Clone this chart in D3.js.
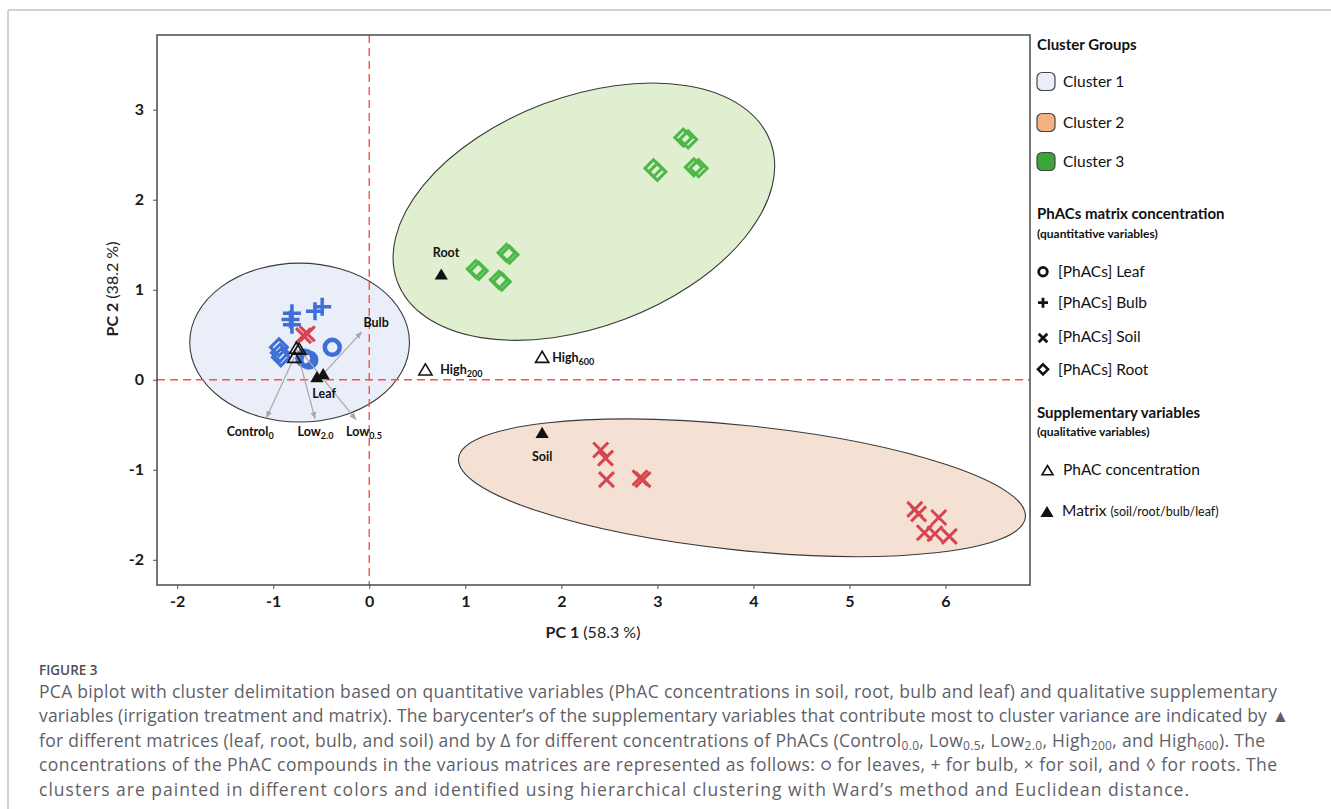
<!DOCTYPE html>
<html><head><meta charset="utf-8">
<script src="https://cdn.jsdelivr.net/npm/d3@7"></script>
<style>body{margin:0;background:#fff;} svg{display:block;}</style>
</head><body>
<svg id="chart" width="1331" height="809"></svg>
<script>
// ---------------- DATA ----------------
const xTicks = [-2, -1, 0, 1, 2, 3, 4, 5, 6];
const yTicks = [-2, -1, 0, 1, 2, 3];

// cluster ellipses (data units; angle in screen degrees)
const clusterNames = ["Cluster 1", "Cluster 2", "Cluster 3"];
const ellCX = [-0.725, 3.881, 2.235];
const ellCY = [0.413, -1.20, 1.867];
const ellRX = [1.144, 2.967, 2.075];
const ellRY = [0.883, 0.693, 1.278];
const ellAngle = [0, 5.94, -20.7];

// PhACs matrix concentrations (quantitative variables)
const leafX = [-0.67, -0.63, -0.385];
const leafY = [0.24, 0.22, 0.36];
const bulbX = [-0.805, -0.82, -0.805, -0.565, -0.49];
const bulbY = [0.74, 0.67, 0.61, 0.76, 0.81];
const soilX = [-0.685, -0.645, 2.41, 2.46, 2.47, 2.82, 2.85, 5.68, 5.72, 5.93, 5.78, 5.89, 6.04];
const soilY = [0.49, 0.51, -0.78, -0.87, -1.11, -1.09, -1.11, -1.44, -1.49, -1.53, -1.70, -1.71, -1.74];
const rootX = [-0.94, -0.93, -0.92, 3.27, 3.32, 2.96, 3.00, 3.38, 3.43, 1.43, 1.46, 1.11, 1.14, 1.35, 1.38];
const rootY = [0.36, 0.30, 0.25, 2.69, 2.67, 2.35, 2.31, 2.36, 2.35, 1.41, 1.39, 1.23, 1.21, 1.11, 1.09];
const rootCluster = [1, 1, 1, 3, 3, 3, 3, 3, 3, 3, 3, 3, 3, 3, 3];

// supplementary: PhAC concentration (open triangles)
const concBase = ["Control", "Low", "Low", "High", "High"];
const concSub = ["0", "2.0", "0.5", "200", "600"];
const concX = [-0.78, -0.76, -0.73, 0.585, 1.80];
const concY = [0.25, 0.35, 0.34, 0.11, 0.25];
const concLabelX = [-1.24, -0.56, -0.055, 0.74, 1.905];
const concLabelY = [-0.62, -0.62, -0.62, 0.067, 0.20];
const concArrowX = [-1.07, -0.565, -0.14, null, null];
const concArrowY = [-0.42, -0.43, -0.44, null, null];

// supplementary: matrix (filled triangles)
const matName = ["Root", "Soil", "Bulb", "Leaf"];
const matX = [0.75, 1.80, -0.48, -0.545];
const matY = [1.17, -0.59, 0.063, 0.03];
const matLabelX = [0.80, 1.80, 0.071, -0.47];
const matLabelY = [1.36, -0.90, 0.59, -0.20];
const matArrowX = [null, null, -0.08, null];
const matArrowY = [null, null, 0.53, null];

// ---------------- STYLE ----------------
const FONT = "Lato, 'Open Sans', sans-serif";
const ellFill = ["#e9eef8", "#f5e1d4", "#e0efcf"];
const swatchFill = ["#e9eef8", "#f4b183", "#3aa63a"];
const BLUE = "#3d6fd6", RED = "#d64550", GREEN = "#4cb84a";

const svg = d3.select("#chart");
const x = d3.scaleLinear().domain([-2.21, 6.88]).range([157, 1030]);
const y = d3.scaleLinear().domain([-2.28, 3.83]).range([585, 35]);

// outer page frame
svg.append("line").attr("x1", 8).attr("x2", 1331).attr("y1", 10).attr("y2", 10)
  .attr("stroke", "#d2d2d6").attr("stroke-width", 2);
svg.append("line").attr("x1", 8).attr("x2", 8).attr("y1", 10).attr("y2", 809)
  .attr("stroke", "#d2d2d6").attr("stroke-width", 2);

const defs = svg.append("defs");
defs.append("marker").attr("id", "ah").attr("viewBox", "0 0 10 10")
  .attr("refX", 9).attr("refY", 5).attr("markerWidth", 6).attr("markerHeight", 6)
  .attr("orient", "auto")
  .append("path").attr("d", "M0,1L10,5L0,9Z").attr("fill", "#a8a8a8");

const g = svg.append("g");

// ellipses
g.selectAll("ellipse.cl").data(d3.range(3)).join("ellipse").attr("class", "cl")
  .attr("cx", i => x(ellCX[i])).attr("cy", i => y(ellCY[i]))
  .attr("rx", i => x(ellCX[i] + ellRX[i]) - x(ellCX[i]))
  .attr("ry", i => y(ellCY[i]) - y(ellCY[i] + ellRY[i]))
  .attr("transform", i => `rotate(${ellAngle[i]},${x(ellCX[i])},${y(ellCY[i])})`)
  .attr("fill", i => ellFill[i]).attr("stroke", "#3a3a3a").attr("stroke-width", 1.1);

// dashed zero lines
g.append("line").attr("x1", x(0)).attr("x2", x(0)).attr("y1", y.range()[1]).attr("y2", y.range()[0])
  .attr("stroke", "#ff4d4d").attr("stroke-width", 1.4).attr("stroke-dasharray", "8,5");
g.append("line").attr("x1", x.range()[0]).attr("x2", x.range()[1]).attr("y1", y(0)).attr("y2", y(0))
  .attr("stroke", "#ff4d4d").attr("stroke-width", 1.4).attr("stroke-dasharray", "8,5");

// axes
const xAxis = g.append("g").attr("transform", `translate(0,${y.range()[0]})`)
  .call(d3.axisBottom(x).tickValues(xTicks).tickFormat(d => String(d)).tickSize(4).tickPadding(7));
const yAxis = g.append("g").attr("transform", `translate(${x.range()[0]},0)`)
  .call(d3.axisLeft(y).tickValues(yTicks).tickFormat(d => String(d)).tickSize(4).tickPadding(9));
[xAxis, yAxis].forEach(a => {
  a.select(".domain").remove();
  a.selectAll(".tick line").attr("stroke", "#555");
  a.selectAll(".tick text").attr("font-family", FONT).attr("font-weight", 700)
    .attr("font-size", 16).attr("fill", "#1a1a1a");
});
// frame
g.append("rect").attr("x", x.range()[0]).attr("y", y.range()[1])
  .attr("width", x.range()[1] - x.range()[0]).attr("height", y.range()[0] - y.range()[1])
  .attr("fill", "none").attr("stroke", "#4a4a4a").attr("stroke-width", 1.5);

// axis titles
const xt = svg.append("text").attr("x", 593).attr("y", 638).attr("text-anchor", "middle")
  .attr("font-family", FONT).attr("font-size", 16).attr("fill", "#222");
xt.append("tspan").attr("font-weight", 700).text("PC 1");
xt.append("tspan").text(" (58.3 %)");
const yt = svg.append("text").attr("transform", "translate(118,289) rotate(-90)").attr("text-anchor", "middle")
  .attr("font-family", FONT).attr("font-size", 16).attr("fill", "#222");
yt.append("tspan").attr("font-weight", 700).text("PC 2");
yt.append("tspan").text(" (38.2 %)");

// symbol shapes
const shapes = {
  circle: s => `M${s},0A${s},${s} 0 1,1 ${-s},0A${s},${s} 0 1,1 ${s},0Z`,
  plus: s => `M${-s},0H${s}M0,${-s}V${s}`,
  cross: s => `M${-s},${-s}L${s},${s}M${-s},${s}L${s},${-s}`,
  diamond: s => `M0,${-s}L${s},0L0,${s}L${-s},0Z`,
  tri: s => `M0,${-s}L${s * 1.1},${s * 0.85}L${-s * 1.1},${s * 0.85}Z`
};

function drawPoints(xs, ys, shape, size, width, colorFn) {
  g.append("g").selectAll("path").data(d3.range(xs.length)).join("path")
    .attr("transform", i => `translate(${x(xs[i])},${y(ys[i])})`)
    .attr("d", shapes[shape](size)).attr("fill", "none")
    .attr("stroke", colorFn).attr("stroke-width", width).attr("stroke-linejoin", "miter");
}
drawPoints(rootX, rootY, "diamond", 8.5, 3, i => rootCluster[i] === 1 ? BLUE : GREEN);
drawPoints(leafX, leafY, "circle", 7.5, 4.5, () => BLUE);
drawPoints(bulbX, bulbY, "plus", 9, 3.5, () => BLUE);
drawPoints(soilX, soilY, "cross", 7.5, 3, () => RED);

// arrows
function arrows(xs, ys, ax, ay) {
  g.append("g").selectAll("line").data(d3.range(xs.length).filter(i => ax[i] !== null)).join("line")
    .attr("x1", i => x(xs[i])).attr("y1", i => y(ys[i]))
    .attr("x2", i => x(ax[i])).attr("y2", i => y(ay[i]))
    .attr("stroke", "#a8a8a8").attr("stroke-width", 1.2).attr("marker-end", "url(#ah)");
}
arrows(concX, concY, concArrowX, concArrowY);
arrows(matX, matY, matArrowX, matArrowY);

// supplementary triangles
g.append("g").selectAll("path").data(d3.range(concX.length)).join("path")
  .attr("transform", i => `translate(${x(concX[i])},${y(concY[i])})`)
  .attr("d", shapes.tri(6)).attr("fill", "none").attr("stroke", "#111").attr("stroke-width", 1.6);
g.append("g").selectAll("path").data(d3.range(matX.length)).join("path")
  .attr("transform", i => `translate(${x(matX[i])},${y(matY[i])})`)
  .attr("d", shapes.tri(6)).attr("fill", "#111");

// labels
const concLab = g.append("g").selectAll("text").data(d3.range(concX.length)).join("text")
  .attr("x", i => x(concLabelX[i])).attr("y", i => y(concLabelY[i]))
  .attr("text-anchor", i => concArrowX[i] === null ? "start" : "middle")
  .attr("font-family", FONT).attr("font-weight", 700).attr("font-size", 12.5).attr("fill", "#111");
concLab.append("tspan").text(i => concBase[i]);
concLab.append("tspan").attr("font-size", 9).attr("dy", 3).text(i => concSub[i]);
g.append("g").selectAll("text").data(d3.range(matX.length)).join("text")
  .attr("x", i => x(matLabelX[i])).attr("y", i => y(matLabelY[i]))
  .attr("text-anchor", "middle")
  .attr("font-family", FONT).attr("font-weight", 700).attr("font-size", 12.5).attr("fill", "#111")
  .text(i => matName[i]);

// ---------------- LEGEND ----------------
const L = svg.append("g").attr("font-family", FONT).attr("fill", "#111");
const LX = 1037;
L.append("text").attr("x", LX).attr("y", 50).attr("font-weight", 700).attr("font-size", 15).text("Cluster Groups");
clusterNames.forEach((n, i) => {
  const cy = [81.5, 122.5, 161.5][i];
  L.append("rect").attr("x", LX).attr("y", cy - 9).attr("width", 18).attr("height", 18).attr("rx", 5)
    .attr("fill", swatchFill[i]).attr("stroke", "#444").attr("stroke-width", 1.2);
  L.append("text").attr("x", 1063).attr("y", cy + 5.5).attr("font-size", 15.5).text(n);
});
L.append("text").attr("x", LX).attr("y", 219).attr("font-weight", 700).attr("font-size", 15).text("PhACs matrix concentration");
L.append("text").attr("x", LX).attr("y", 237.5).attr("font-weight", 700).attr("font-size", 12).text("(quantitative variables)");
const qItems = [["circle", 4.3, 2.8, 271.7, "[PhACs] Leaf"], ["plus", 5, 2.8, 302.7, "[PhACs] Bulb"],
  ["cross", 4.3, 2.8, 338, "[PhACs] Soil"], ["diamond", 5, 2.6, 369.3, "[PhACs] Root"]];
qItems.forEach(([s, sz, w, cy, t]) => {
  L.append("path").attr("transform", `translate(1043,${cy})`).attr("d", shapes[s](sz))
    .attr("fill", "none").attr("stroke", "#111").attr("stroke-width", w);
  L.append("text").attr("x", 1058).attr("y", (s === "cross" ? 336 : cy) + 5.5).attr("font-size", 15.5).text(t);
});
L.append("text").attr("x", LX).attr("y", 417.5).attr("font-weight", 700).attr("font-size", 15).text("Supplementary variables");
L.append("text").attr("x", LX).attr("y", 436).attr("font-weight", 700).attr("font-size", 12).text("(qualitative variables)");
L.append("path").attr("transform", "translate(1047.5,470.5)").attr("d", shapes.tri(5)).attr("fill", "none")
  .attr("stroke", "#111").attr("stroke-width", 1.6);
L.append("text").attr("x", 1063).attr("y", 475).attr("font-size", 15.5).text("PhAC concentration");
L.append("path").attr("transform", "translate(1047,512)").attr("d", shapes.tri(6)).attr("fill", "#111");
const mt = L.append("text").attr("x", 1062).attr("y", 516).attr("font-size", 15.5);
mt.append("tspan").text("Matrix ");
mt.append("tspan").attr("font-size", 12.5).text("(soil/root/bulb/leaf)");

// ---------------- CAPTION ----------------
const CAP = "'Open Sans', Lato, sans-serif";
svg.append("text").attr("x", 39).attr("y", 675).attr("font-family", CAP).attr("font-weight", 600)
  .attr("font-size", 13.5).attr("fill", "#4d4d55").text("FIGURE 3");
const capLines = [
  [["PCA biplot with cluster delimitation based on quantitative variables (PhAC concentrations in soil, root, bulb and leaf) and qualitative supplementary", 0]],
  [["variables (irrigation treatment and matrix). The barycenter’s of the supplementary variables that contribute most to cluster variance are indicated by ▲", 0]],
  [["for different matrices (leaf, root, bulb, and soil) and by Δ for different concentrations of PhACs (Control", 0], ["0.0", 1], [", Low", 0], ["0.5", 1],
   [", Low", 0], ["2.0", 1], [", High", 0], ["200", 1], [", and High", 0], ["600", 1], ["). The", 0]],
  [["concentrations of the PhAC compounds in the various matrices are represented as follows: ○ for leaves, + for bulb, × for soil, and ◊ for roots. The", 0]],
  [["clusters are painted in different colors and identified using hierarchical clustering with Ward’s method and Euclidean distance.", 0]]
];
const capWidths = [1238, 1250, 1226, 1238, 1150];
capLines.forEach((segs, li) => {
  const t = svg.append("text").attr("x", 39).attr("y", 698 + li * 24.4).attr("font-family", CAP)
    .attr("font-size", 17.5).attr("fill", "#5f5f68")
    .attr("textLength", capWidths[li]).attr("lengthAdjust", "spacing");
  segs.forEach(([s, sub]) => {
    const sp = t.append("tspan").text(s);
    if (sub) sp.attr("font-size", 12).attr("baseline-shift", "-3");
  });
});
</script></body></html>
